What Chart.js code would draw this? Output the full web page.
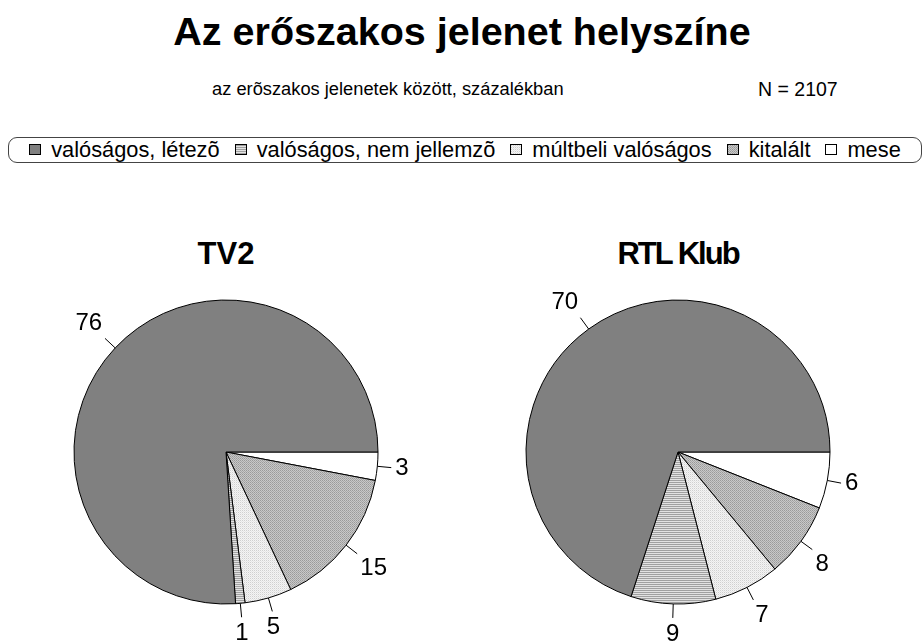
<!DOCTYPE html>
<html>
<head>
<meta charset="utf-8">
<script src="https://cdn.jsdelivr.net/npm/chart.js@4"></script>
<style>
  body { margin: 0; background: #fff; font-family: "Liberation Sans", Arial, sans-serif; }
  #lap { position: relative; width: 924px; height: 641px; overflow: hidden; }
  .szoveg { position: absolute; white-space: nowrap; color: #000; }
  #cim { left: 0; width: 924px; top: 9px; text-align: center; font-size: 39.5px; font-weight: bold; }
  #alcim { left: 212px; top: 78px; font-size: 18.3px; }
  #nszam { left: 758px; top: 78px; font-size: 19.5px; }
  #jelmagyarazat { position: absolute; left: 8px; top: 137px; width: 912px; height: 24px;
    border: 1px solid #444; border-radius: 9px; display: flex; align-items: center;
    justify-content: center; font-size: 21.8px; line-height: 1; gap: 15px; }
  .elem { display: flex; align-items: center; gap: 10px; }
  .elem canvas { border: 1px solid #000; }
  .pitite { position: absolute; font-size: 31px; font-weight: bold; text-align: center; width: 300px; top: 236px; }
  .pie { position: absolute; }
</style>
</head>
<body>
<div id="lap">
  <div id="cim" class="szoveg">Az erőszakos jelenet helyszíne</div>
  <div id="alcim" class="szoveg">az erõszakos jelenetek között, százalékban</div>
  <div id="nszam" class="szoveg">N = 2107</div>
  <div id="jelmagyarazat"></div>
  <div class="pitite szoveg" style="left:76px">TV2</div>
  <div class="pitite szoveg" style="left:528px; letter-spacing:-2px">RTL Klub</div>
  <canvas id="tv2" class="pie" width="440" height="440" style="left:6px; top:232px"></canvas>
  <canvas id="rtl" class="pie" width="440" height="440" style="left:458px; top:232px"></canvas>
</div>
<script>
// kategóriák a jelmagyarázat sorrendjében
const kategoriak = ['valóságos, létezõ', 'valóságos, nem jellemzõ', 'múltbeli valóságos', 'kitalált', 'mese'];
const tv2Ertekek = [76, 1, 5, 15, 3];
const rtlErtekek = [70, 9, 7, 8, 6];

// mintázatok (kis csempékből)
function minta(racs) {
  const c = document.createElement('canvas');
  c.height = racs.length;
  c.width = racs[0].length;
  const g = c.getContext('2d');
  racs.forEach((sor, y) => sor.forEach((szin, x) => {
    g.fillStyle = szin;
    g.fillRect(x, y, 1, 1);
  }));
  return c;
}
const csempek = [
  minta([['#808080']]),
  minta([['#a0a0a0', '#a0a0a0'], ['#e2e2e2', '#e2e2e2']]),
  minta([['#d0d0d0', '#f4f4f4'], ['#f4f4f4', '#e6e6e6']]),
  minta([['#9a9a9a', '#c8c8c8'], ['#c8c8c8', '#a8a8a8']]),
  minta([['#ffffff']])
];

function kitoltesek(ctx) {
  return csempek.map(c => ctx.createPattern(c, 'repeat'));
}

// jelmagyarázat
const jm = document.getElementById('jelmagyarazat');
kategoriak.forEach((k, i) => {
  const el = document.createElement('div');
  el.className = 'elem';
  const sw = document.createElement('canvas');
  sw.width = 10; sw.height = 9;
  const g = sw.getContext('2d');
  g.fillStyle = g.createPattern(csempek[i], 'repeat');
  g.fillRect(0, 0, 10, 9);
  el.appendChild(sw);
  const t = document.createElement('span');
  t.textContent = k;
  el.appendChild(t);
  jm.appendChild(el);
});

// címkék vezetővonallal
const cimkek = {
  id: 'cimkek',
  afterDatasetsDraw(chart) {
    const ctx = chart.ctx;
    const adat = chart.data.datasets[0].data;
    ctx.save();
    ctx.strokeStyle = '#000';
    ctx.lineWidth = 1;
    ctx.fillStyle = '#000';
    ctx.font = '24px "Liberation Sans", Arial, sans-serif';
    chart.getDatasetMeta(0).data.forEach((arc, i) => {
      const p = arc.getProps(['x', 'y', 'startAngle', 'endAngle', 'outerRadius'], true);
      const a = (p.startAngle + p.endAngle) / 2;
      const cos = Math.cos(a), sin = Math.sin(a);
      const r1 = p.outerRadius, r2 = p.outerRadius + 14;
      ctx.beginPath();
      ctx.moveTo(p.x + cos * r1, p.y + sin * r1);
      ctx.lineTo(p.x + cos * r2, p.y + sin * r2);
      ctx.stroke();
      const ex = p.x + cos * (r2 + 4), ey = p.y + sin * (r2 + 4);
      ctx.textAlign = Math.abs(cos) < 0.3 ? 'center' : (cos > 0 ? 'left' : 'right');
      ctx.textBaseline = Math.abs(sin) < 0.3 ? 'middle' : (sin > 0 ? 'top' : 'bottom');
      ctx.fillText(String(adat[i]), ex, ey);
    });
    ctx.restore();
  }
};

function pite(id, ertekek) {
  const ctx = document.getElementById(id).getContext('2d');
  // az óramutatóval ellentétes sorrend miatt fordítva adjuk át
  return new Chart(ctx, {
    type: 'pie',
    data: {
      labels: kategoriak.slice().reverse(),
      datasets: [{
        data: ertekek.slice().reverse(),
        backgroundColor: kitoltesek(ctx).reverse(),
        borderColor: '#000',
        borderWidth: 1,
        hoverOffset: 0
      }]
    },
    options: {
      responsive: false,
      animation: false,
      rotation: 90,
      radius: 152,
      events: [],
      plugins: { legend: { display: false }, tooltip: { enabled: false } }
    },
    plugins: [cimkek]
  });
}

pite('tv2', tv2Ertekek);
pite('rtl', rtlErtekek);
</script>
</body>
</html>
